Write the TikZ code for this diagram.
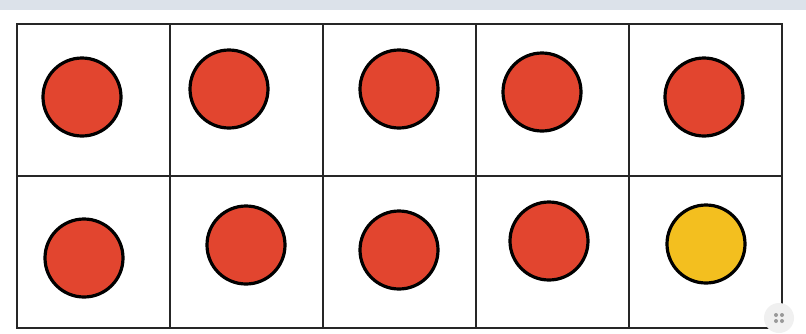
\documentclass[tikz,border=0pt]{standalone}
\usetikzlibrary{calc}
\definecolor{dotred}{HTML}{E2452F}
\definecolor{dotyellow}{HTML}{F3BF1F}
\definecolor{band}{HTML}{DCE2EA}
\tikzset{
  cell/.style={draw=black!85, line width=1.8pt},
  counter/.style={circle, draw=black, line width=3.2pt, minimum size=78pt, inner sep=0pt},
}
\begin{document}
\begin{tikzpicture}[x=1pt,y=-1pt]
\useasboundingbox (0,0) rectangle (806,333);
\fill[white] (0,0) rectangle (806,333);
\fill[band] (0,0) rectangle (806,10);
% grid
\foreach \i in {0,...,4}{
  \foreach \j in {0,1}{
    \draw[cell] ({17+153*\i},{24+152*\j}) rectangle ({17+153*(\i+1)},{24+152*(\j+1)});
  }
}
% counters
\node[counter, fill=dotred] (a1) at (82,97) {};
\node[counter, fill=dotred] (a2) at (229,89) {};
\node[counter, fill=dotred] (a3) at (399,89) {};
\node[counter, fill=dotred] (a4) at (542,92) {};
\node[counter, fill=dotred] (a5) at (704,97) {};
\node[counter, fill=dotred] (b1) at (84,258) {};
\node[counter, fill=dotred] (b2) at (246,245) {};
\node[counter, fill=dotred] (b3) at (399,250) {};
\node[counter, fill=dotred] (b4) at (549,241) {};
\node[counter, fill=dotyellow] (b5) at (706,244) {};
% corner icon
\node[circle, fill=black!6, minimum size=30pt, inner sep=0pt] (icon) at (779,318) {};
\foreach \dx/\dy in {-3/-3,3/-3,-3/3,3/3}
  \fill[black!40] ($(icon)+(\dx,\dy)$) circle (2pt);
\end{tikzpicture}
\end{document}
